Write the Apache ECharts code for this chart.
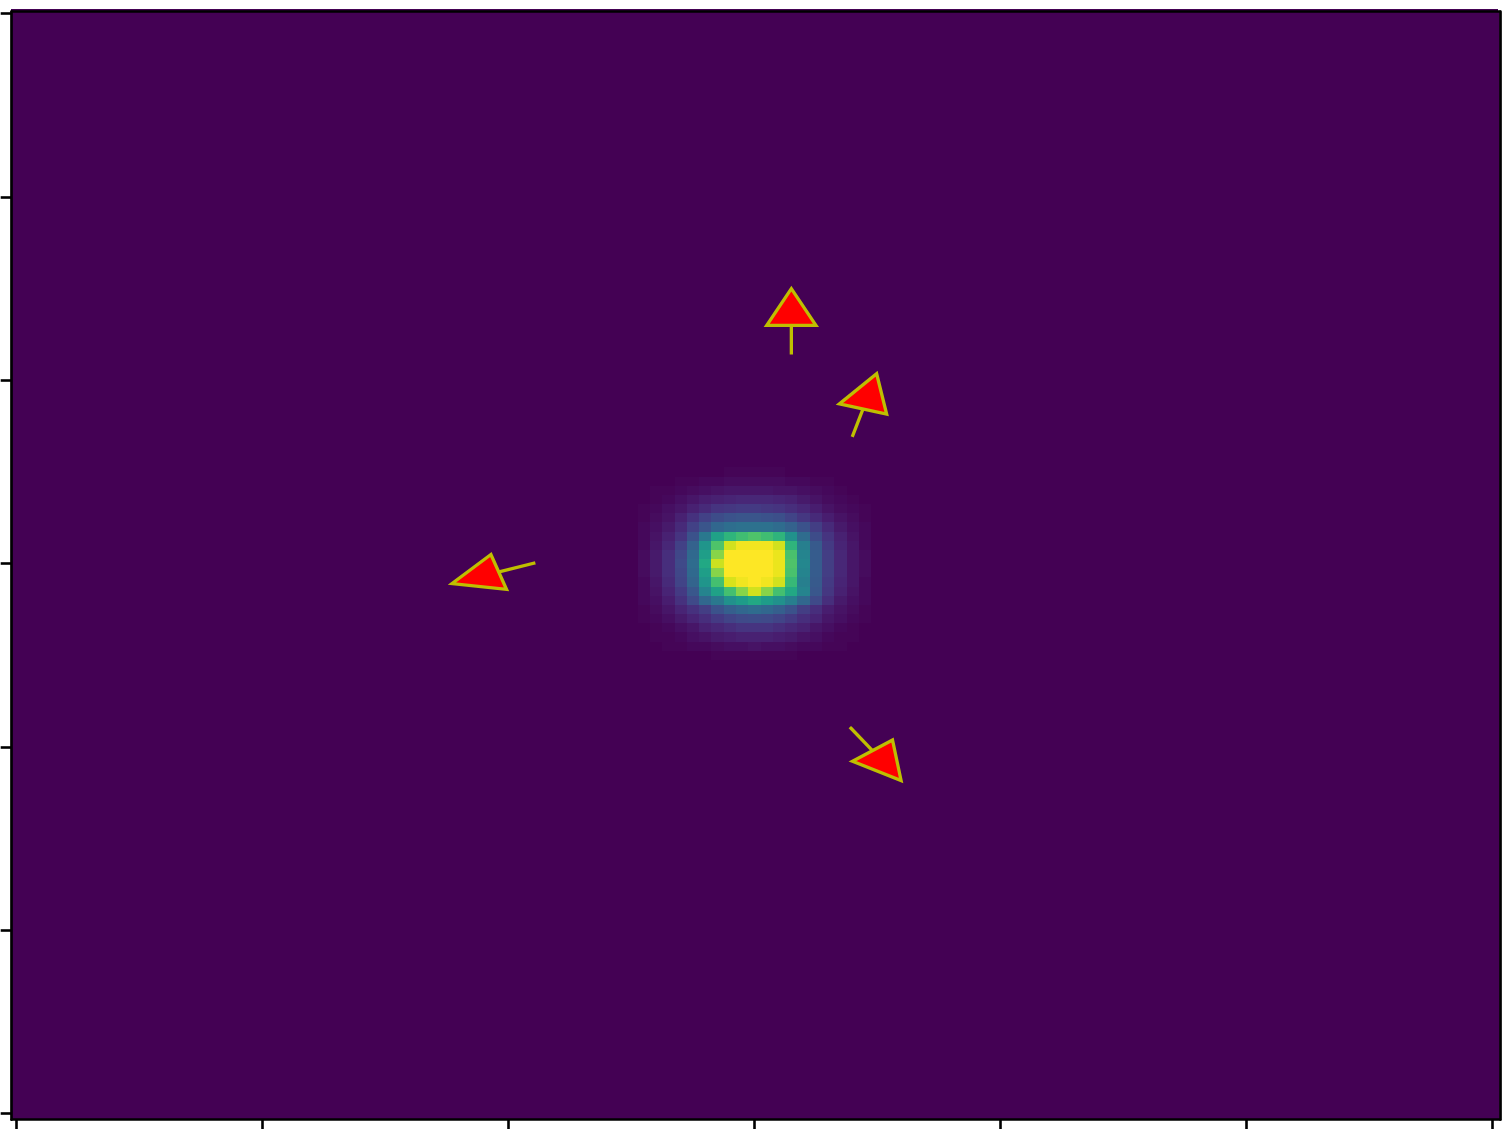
<!DOCTYPE html>
<html>
<head>
<meta charset="utf-8">
<script src="https://cdn.jsdelivr.net/npm/echarts@6/dist/echarts.min.js"></script>
<style>
html,body{margin:0;padding:0;background:#ffffff;}
#chart{width:1509px;height:1129px;}
</style>
</head>
<body>
<div id="chart"></div>
<script>
// ---- data ----
const gridCols = 121;            // image columns 0..120
const gridRows = 121;            // image rows 0..120
const blobCol0 = 50;             // first column of the visible blob patch
const blobRow0 = 50;             // first row of the visible blob patch
// blob intensities (0..100), rows 50..70, columns 50..70
const blobRows = [
  [0,0,0,0,0,0,0,0,1,1,1,1,1,0,0,0,0,0,0,0,0],
  [0,0,0,0,1,1,2,2,3,3,3,3,3,2,2,1,1,0,0,0,0],
  [0,0,1,1,2,3,4,5,6,6,6,6,5,5,4,3,2,1,0,0,0],
  [0,0,1,2,4,6,8,9,10,11,11,11,10,9,7,5,3,2,1,0,0],
  [0,1,2,4,6,9,12,15,16,17,17,16,15,13,11,8,5,3,2,1,0],
  [0,1,3,5,9,14,19,23,25,26,26,25,24,20,16,12,8,5,3,1,0],
  [0,2,4,7,12,19,26,33,36,37,37,37,35,31,25,18,12,7,4,2,0],
  [0,2,5,9,15,25,40,57,65,69,72,69,65,50,35,23,15,9,5,2,0],
  [0,2,6,11,19,31,52,72,93,98,98,98,93,65,43,28,17,10,6,2,0],
  [0,3,7,13,21,34,56,82,100,100,100,100,97,71,45,29,18,11,6,3,0],
  [0,3,7,13,22,35,60,92,100,100,100,100,97,72,46,29,18,11,6,3,0],
  [0,3,7,13,21,34,56,82,100,100,100,100,97,71,45,29,18,11,6,3,0],
  [0,2,6,12,20,32,52,70,94,98,100,98,93,67,43,28,17,10,6,2,0],
  [0,2,5,10,17,27,45,57,70,82,93,82,70,60,45,27,16,9,5,2,0],
  [0,2,4,8,14,22,33,40,50,55,60,55,50,43,33,22,13,7,4,2,0],
  [0,1,3,6,10,14,18,25,30,33,35,33,30,25,18,13,8,5,3,1,0],
  [0,1,2,4,7,10,13,17,20,22,23,22,20,17,13,10,6,4,2,1,0],
  [0,0,1,2,4,6,9,11,13,15,15,15,13,11,9,6,4,2,1,0,0],
  [0,0,1,1,2,4,5,7,8,9,9,9,8,7,5,4,2,1,1,0,0],
  [0,0,0,1,1,2,2,3,4,4,5,4,4,3,2,2,1,1,0,0,0],
  [0,0,0,0,0,0,0,1,1,1,1,1,1,1,0,0,0,0,0,0,0]
];
// arrows: tail position and stem vector, in image (column,row) units
const arrowX  = [63.0, 68.0, 42.05, 67.85];
const arrowY  = [37.0, 46.0, 59.95, 77.95];
const arrowDX = [0.0, 0.83, -2.85, 1.75];
const arrowDY = [-3.0, -2.88, 0.95, 2.45];
const headWidth = 4;
const headLength = 4;
// tick positions
const xTickValues = [0, 20, 40, 60, 80, 100, 120];
const yTickValues = [0, 20, 40, 60, 80, 100, 120];

// viridis colour map stops
const viridis = ['#440154','#471365','#482475','#463480','#414487','#3b528b','#355f8d',
  '#2f6c8e','#2a788e','#25848e','#21918c','#1e9c89','#22a884','#2fb47c','#44bf70',
  '#5ec962','#7ad151','#9bd93c','#bddf26','#dfe318','#fde725'];

// ---- build cell table ----
const cells = [];
for (let r = 0; r < gridRows; r++) {
  for (let c = 0; c < gridCols; c++) {
    let v = 0;
    const br = r - blobRow0, bc = c - blobCol0;
    if (br >= 0 && br < blobRows.length && bc >= 0 && bc < blobRows[br].length) v = blobRows[br][bc];
    cells.push([c, r, v]);
  }
}
const arrows = arrowX.map((x, i) => [x, arrowY[i], arrowDX[i], arrowDY[i]]);

const chart = echarts.init(document.getElementById('chart'), null, {renderer: 'canvas'});

const axisLineStyle = {show: true, onZero: false, lineStyle: {color: '#000', width: 2.7}};
const xRange = {min: -0.41, max: 120.62};
const yRange = {min: -0.22, max: 120.66};

function renderCell(params, api) {
  const c = api.value(0), r = api.value(1);
  const p0 = api.coord([c - 0.5, r - 0.5]);
  const p1 = api.coord([c + 0.5, r + 0.5]);
  const x0 = Math.round(Math.min(p0[0], p1[0])), x1 = Math.round(Math.max(p0[0], p1[0]));
  const y0 = Math.round(Math.min(p0[1], p1[1])), y1 = Math.round(Math.max(p0[1], p1[1]));
  return {
    type: 'rect',
    shape: {x: x0, y: y0, width: x1 - x0, height: y1 - y0},
    style: {fill: api.visual('color')}
  };
}

function renderArrow(params, api) {
  const x = api.value(0), y = api.value(1), dx = api.value(2), dy = api.value(3);
  const len = Math.sqrt(dx * dx + dy * dy);
  const ux = dx / len, uy = dy / len;
  const nx = -uy, ny = ux;
  const bx = x + dx, by = y + dy;
  const tail = api.coord([x, y]);
  const base = api.coord([bx, by]);
  const left = api.coord([bx + nx * headWidth / 2, by + ny * headWidth / 2]);
  const right = api.coord([bx - nx * headWidth / 2, by - ny * headWidth / 2]);
  const tip = api.coord([bx + ux * headLength, by + uy * headLength]);
  return {
    type: 'group',
    children: [
      {type: 'polyline', shape: {points: [tail, base]},
       style: {stroke: '#bfbf00', lineWidth: 3.3, lineCap: 'square', fill: null}},
      {type: 'polygon', shape: {points: [left, tip, right]},
       style: {fill: '#ff0000', stroke: '#bfbf00', lineWidth: 3.3, lineJoin: 'miter'}}
    ]
  };
}

chart.setOption({
  animation: false,
  backgroundColor: '#ffffff',
  grid: {left: 11.7, top: 11.7, width: 1488.1, height: 1108, show: true,
         backgroundColor: '#440154', borderWidth: 0, containLabel: false},
  visualMap: {type: 'continuous', show: false, min: 0, max: 100, dimension: 2,
              seriesIndex: 0, inRange: {color: viridis}},
  xAxis: [
    Object.assign({type: 'value', position: 'bottom', z: 10,
      axisLine: axisLineStyle,
      axisTick: {show: true, length: 11, lineStyle: {color: '#000', width: 2.6}, customValues: xTickValues},
      axisLabel: {show: false}, splitLine: {show: false}}, xRange),
    Object.assign({type: 'value', position: 'top', z: 10,
      axisLine: axisLineStyle, axisTick: {show: false},
      axisLabel: {show: false}, splitLine: {show: false}}, xRange)
  ],
  yAxis: [
    Object.assign({type: 'value', position: 'left', inverse: true, z: 10,
      axisLine: axisLineStyle,
      axisTick: {show: true, length: 11, lineStyle: {color: '#000', width: 2.6}, customValues: yTickValues},
      axisLabel: {show: false}, splitLine: {show: false}}, yRange),
    Object.assign({type: 'value', position: 'right', inverse: true, z: 10,
      axisLine: axisLineStyle, axisTick: {show: false},
      axisLabel: {show: false}, splitLine: {show: false}}, yRange)
  ],
  series: [
    {type: 'custom', name: 'image', xAxisIndex: 0, yAxisIndex: 0, clip: true, z: 2,
     renderItem: renderCell, data: cells, encode: {x: 0, y: 1}, silent: true},
    {type: 'custom', name: 'arrows', xAxisIndex: 0, yAxisIndex: 0, z: 5,
     renderItem: renderArrow, data: arrows, encode: {x: 0, y: 1}, silent: true}
  ]
});
</script>
</body>
</html>
